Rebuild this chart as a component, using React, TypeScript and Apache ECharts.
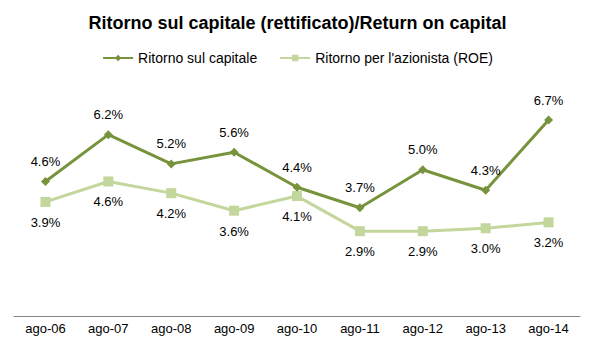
import React, { useEffect, useRef } from "react";
import * as echarts from "echarts";

const categories = ["ago-06", "ago-07", "ago-08", "ago-09", "ago-10", "ago-11", "ago-12", "ago-13", "ago-14"];
const ritornoCapitale = [4.6, 6.2, 5.2, 5.6, 4.4, 3.7, 5.0, 4.3, 6.7];
const ritornoAzionista = [3.9, 4.6, 4.2, 3.6, 4.1, 2.9, 2.9, 3.0, 3.2];

const DARK = "#77933C";
const LIGHT = "#C3D69B";
const FONT = "'Liberation Sans', Arial, sans-serif";

export default function App() {
  const ref = useRef<HTMLDivElement>(null);
  useEffect(() => {
    if (!ref.current) return;
    const chart = echarts.init(ref.current, undefined, { renderer: "svg" });
    chart.setOption({
      animation: false,
      backgroundColor: "#ffffff",
      title: {
        text: "Ritorno sul capitale (rettificato)/Return on capital",
        left: "center",
        top: 9,
        textStyle: { fontFamily: FONT, fontSize: 18, fontWeight: "bold", color: "#000" },
      },
      legend: {
        top: 46,
        left: "center",
        itemGap: 22,
        itemWidth: 30,
        itemHeight: 8,
        textStyle: { fontFamily: FONT, fontSize: 14, color: "#000" },
        data: ["Ritorno sul capitale", "Ritorno per l'azionista (ROE)"],
      },
      grid: { left: 14, right: 15, top: 82, bottom: 36, containLabel: false },
      xAxis: {
        type: "category",
        data: categories,
        boundaryGap: true,
        axisLine: { lineStyle: { color: "#888888", width: 1 } },
        axisTick: { show: false },
        axisLabel: { fontFamily: FONT, fontSize: 13, color: "#000", margin: 6 },
      },
      yAxis: {
        type: "value",
        min: 0,
        max: 8,
        show: false,
        splitLine: { show: false },
      },
      series: [
        {
          name: "Ritorno sul capitale",
          type: "line",
          data: ritornoCapitale,
          symbol: "diamond",
          symbolSize: 9,
          itemStyle: { color: DARK },
          lineStyle: { color: DARK, width: 3 },
          label: {
            show: true,
            position: "top",
            distance: 9,
            formatter: (p: any) => p.value.toFixed(1) + "%",
            fontFamily: FONT,
            fontSize: 13,
            color: "#000",
          },
          z: 3,
        },
        {
          name: "Ritorno per l'azionista (ROE)",
          type: "line",
          data: ritornoAzionista,
          symbol: "rect",
          symbolSize: 10,
          itemStyle: { color: LIGHT },
          lineStyle: { color: LIGHT, width: 3 },
          label: {
            show: true,
            position: "bottom",
            distance: 9,
            formatter: (p: any) => p.value.toFixed(1) + "%",
            fontFamily: FONT,
            fontSize: 13,
            color: "#000",
          },
          z: 2,
        },
      ],
    });
    return () => chart.dispose();
  }, []);
  return <div ref={ref} style={{ width: 595, height: 352, position: "absolute", left: 0, top: 0 }} />;
}
